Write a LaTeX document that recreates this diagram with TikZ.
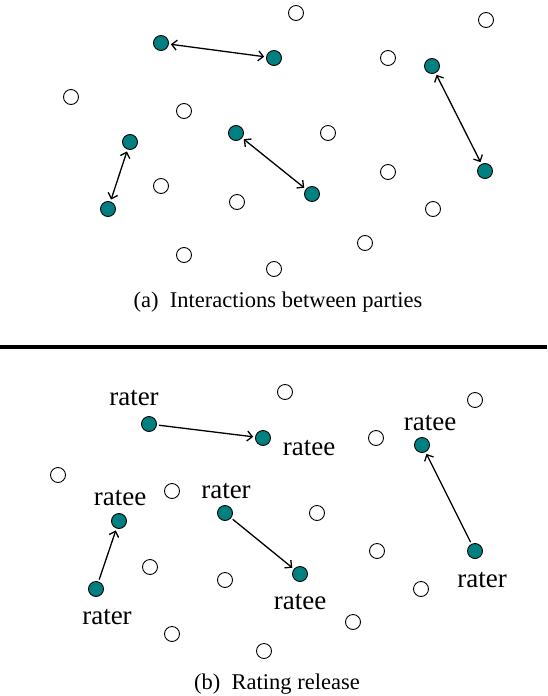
\documentclass[tikz,border=0pt]{standalone}
\usepackage{fontspec}
\setmainfont{Liberation Serif}
\usetikzlibrary{arrows.meta}
\definecolor{tealfill}{RGB}{0,128,128}
\tikzset{
  party/.style={circle,draw=black,line width=0.9pt,fill=white,minimum size=15pt,inner sep=0pt},
  active/.style={party,fill=tealfill},
  link/.style={line width=1.3pt,shorten <=2pt,shorten >=2pt},
  both/.style={link,{Straight Barb[length=5pt,width=10pt]}-{Straight Barb[length=5pt,width=10pt]}},
  one/.style={link,-{Straight Barb[length=5pt,width=10pt]}},
  lab/.style={font=\fontsize{27}{30}\selectfont,inner sep=0pt,anchor=base},
  captext/.style={font=\fontsize{22.5}{26}\selectfont,inner sep=0pt,anchor=base}
}
\begin{document}
\begin{tikzpicture}[x=1pt,y=-1pt]
\useasboundingbox (0,0) rectangle (547,696);
% ---------- panel (a) ----------
\foreach \x/\y [count=\i] in {296/13,486/20,388/58,71/97,184/111,328/133,161/186,388/172,237/202,433/209,365/243,184/255,274/269}
  \node[party] (ea\i) at (\x,\y) {};
\node[active] (a1) at (161,43) {};
\node[active] (a2) at (274,58) {};
\node[active] (b1) at (432,66) {};
\node[active] (b2) at (485,171) {};
\node[active] (c1) at (130,142) {};
\node[active] (c2) at (108,209) {};
\node[active] (d1) at (236,133) {};
\node[active] (d2) at (312,194) {};
\draw[both] (a1) -- (a2);
\draw[both] (b1) -- (b2);
\draw[both] (c1) -- (c2);
\draw[both] (d1) -- (d2);
\node[captext] (capa) at (278,307) {(a)\enspace Interactions between parties};
% separator
\coordinate (sl) at (0,347);
\coordinate (sr) at (547,347);
\draw[line width=4pt] (sl) -- (sr);
% ---------- panel (b) ----------
\foreach \x/\y [count=\i] in {285/392,475/400,376/438,58/475,172/491,317/513,150/567,377/551,225/580,421/589,353/622,172/634,264/651}
  \node[party] (eb\i) at (\x,\y) {};
\node[active] (r1) at (149,424) {};
\node[active] (t1) at (263,438) {};
\node[active] (t2) at (422,445) {};
\node[active] (r2) at (475,551) {};
\node[active] (t3) at (119,521) {};
\node[active] (r3) at (96,589) {};
\node[active] (r4) at (225,513) {};
\node[active] (t4) at (300,574) {};
\draw[one] (r1) -- (t1);
\draw[one] (r2) -- (t2);
\draw[one] (r3) -- (t3);
\draw[one] (r4) -- (t4);
\node[lab] (lr1) at (134,405) {rater};
\node[lab] (lt1) at (309,455) {ratee};
\node[lab] (lt2) at (430,430) {ratee};
\node[lab] (lr2) at (482,587) {rater};
\node[lab] (lt3) at (120,505) {ratee};
\node[lab] (lr3) at (107,624) {rater};
\node[lab] (lr4) at (226,498) {rater};
\node[lab] (lt4) at (300,609) {ratee};
\node[captext] (capb) at (277,689) {(b)\enspace Rating release};
\end{tikzpicture}
\end{document}
